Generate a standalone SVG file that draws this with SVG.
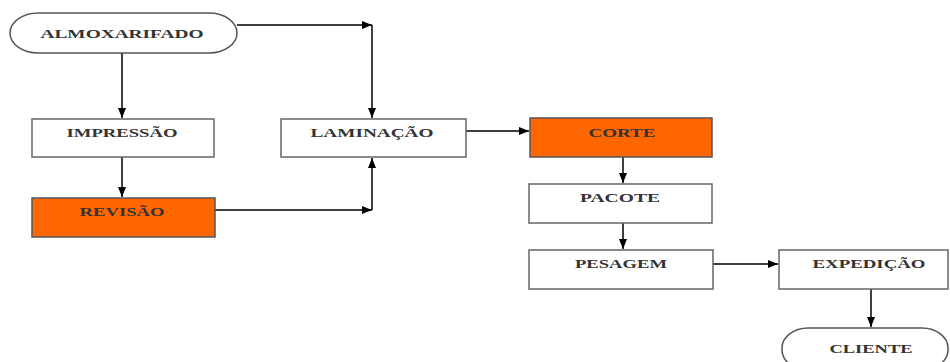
<svg xmlns="http://www.w3.org/2000/svg" width="950" height="362" viewBox="0 0 950 362">
<defs>
<marker id="ah" viewBox="0 0 10 8" refX="10" refY="4" markerWidth="10" markerHeight="8" markerUnits="userSpaceOnUse" orient="auto">
<path d="M0,0 L10,4 L0,8 Z" fill="#000"/>
</marker>
<style>
.box{fill:#fff;stroke:#666;stroke-width:1.5}
.hot{fill:#ff6600;stroke:#555;stroke-width:1.5}
.term{fill:#fff;stroke:#555;stroke-width:1.5}
.lbl{font-family:"Liberation Serif","Times New Roman",serif;font-size:13px;fill:#333;text-anchor:middle;font-weight:bold}
.c{fill:none;stroke:#000;stroke-width:1.5}
</style>
</defs>
<rect width="950" height="362" fill="#fff"/>
<g id="connectors">
<path class="c" d="M237,25 H372" marker-end="url(#ah)"/>
<path class="c" d="M372,25 V118" marker-end="url(#ah)"/>
<path class="c" d="M122,53 V118" marker-end="url(#ah)"/>
<path class="c" d="M122,157 V197" marker-end="url(#ah)"/>
<path class="c" d="M215,210 H372" marker-end="url(#ah)"/>
<path class="c" d="M372,210 V158" marker-end="url(#ah)"/>
<path class="c" d="M466,131 H529" marker-end="url(#ah)"/>
<path class="c" d="M623,157 V183" marker-end="url(#ah)"/>
<path class="c" d="M623,223 V249" marker-end="url(#ah)"/>
<path class="c" d="M713,264 H778" marker-end="url(#ah)"/>
<path class="c" d="M871,289 V327" marker-end="url(#ah)"/>
</g>
<g id="almoxarifado">
<rect class="term" x="10" y="13" width="227" height="40" rx="28" ry="20"/>
<text class="lbl" x="122" y="38" textLength="163" lengthAdjust="spacingAndGlyphs">ALMOXARIFADO</text>
</g>
<g id="impressao">
<rect class="box" x="32" y="119" width="182" height="38"/>
<text class="lbl" x="122" y="137" textLength="111" lengthAdjust="spacingAndGlyphs">IMPRESSÃO</text>
</g>
<g id="revisao">
<rect class="hot" x="32" y="198" width="183" height="39"/>
<text class="lbl" x="122" y="216" textLength="85" lengthAdjust="spacingAndGlyphs">REVISÃO</text>
</g>
<g id="laminacao">
<rect class="box" x="281" y="119" width="185" height="38"/>
<text class="lbl" x="372" y="137" textLength="123" lengthAdjust="spacingAndGlyphs">LAMINAÇÃO</text>
</g>
<g id="corte">
<rect class="hot" x="530" y="118" width="182" height="39"/>
<text class="lbl" x="622" y="137" textLength="67" lengthAdjust="spacingAndGlyphs">CORTE</text>
</g>
<g id="pacote">
<rect class="box" x="529" y="184" width="183" height="39"/>
<text class="lbl" x="620" y="202" textLength="80" lengthAdjust="spacingAndGlyphs">PACOTE</text>
</g>
<g id="pesagem">
<rect class="box" x="529" y="250" width="184" height="39"/>
<text class="lbl" x="621" y="268" textLength="92" lengthAdjust="spacingAndGlyphs">PESAGEM</text>
</g>
<g id="expedicao">
<rect class="box" x="779" y="250" width="169" height="39"/>
<text class="lbl" x="869" y="268" textLength="113" lengthAdjust="spacingAndGlyphs">EXPEDIÇÃO</text>
</g>
<g id="cliente">
<rect class="term" x="782" y="328" width="166" height="42" rx="26" ry="20"/>
<text class="lbl" x="871" y="353" textLength="83" lengthAdjust="spacingAndGlyphs">CLIENTE</text>
</g>
</svg>
